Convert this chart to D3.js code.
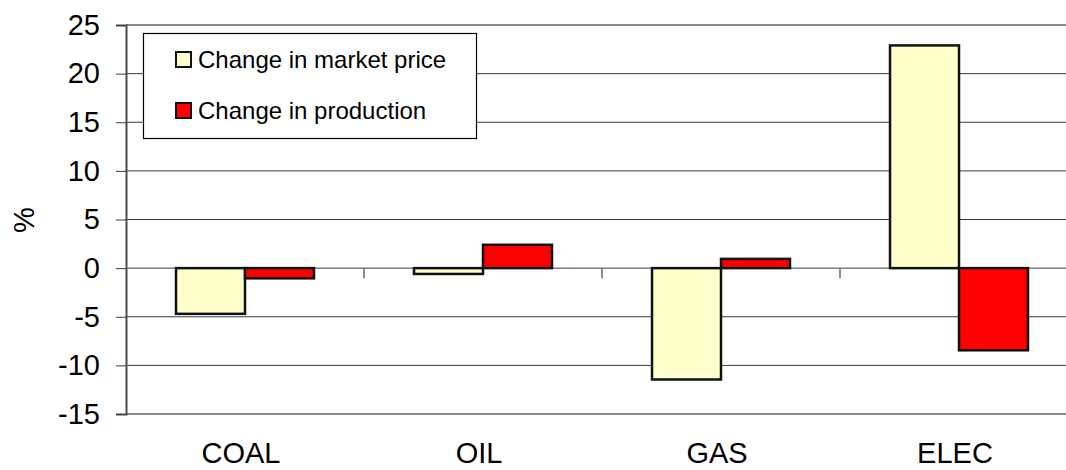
<!DOCTYPE html>
<meta charset="utf-8">
<style>
	body { margin: 0; background: #fff; }
	text { font-family: Arial, "Liberation Sans", sans-serif; fill: #000; }
</style>
<body>
<script src="https://d3js.org/d3.v7.min.js"></script>
<script>

	var categories = ["COAL", "OIL", "GAS", "ELEC"];
	var seriesNames = ["Change in market price", "Change in production"];
	var marketPrice = [-4.7, -0.6, -11.45, 22.9];
	var production = [-1.05, 2.4, 0.95, -8.45];
	var yTicks = [-15, -10, -5, 0, 5, 10, 15, 20, 25];
	var colors = ["#FFFFCC", "#FF0000"];

	var width = 1066, height = 470;
	var plotLeft = 126, plotRight = 1078, plotTop = 25, plotBottom = 414;

	var svg = d3.select("body").append("svg")
		.attr("width", width)
		.attr("height", height);

	var x = d3.scaleBand()
		.domain(categories)
		.range([plotLeft, plotRight]);

	var x1 = d3.scaleBand()
		.domain(seriesNames)
		.range([0, x.bandwidth()])
		.paddingOuter(0.725);

	var y = d3.scaleLinear()
		.domain([-15, 25])
		.range([plotBottom, plotTop]);

	// grid lines
	svg.append("g").selectAll("line")
		.data(yTicks.filter(function(d) { return d > -15 && d < 25; }))
		.enter().append("line")
		.attr("x1", plotLeft).attr("x2", plotRight)
		.attr("y1", function(d) { return y(d); })
		.attr("y2", function(d) { return y(d); })
		.attr("stroke", "#3a3a3a")
		.attr("stroke-width", 1);

	// plot border top / bottom
	[25, -15].forEach(function(v) {
		svg.append("line")
			.attr("x1", plotLeft).attr("x2", plotRight)
			.attr("y1", y(v)).attr("y2", y(v))
			.attr("stroke", "#8c8c8c")
			.attr("stroke-width", 2);
	});

	// y axis (plain hyphen for negatives, like the original)
	var yAxis = svg.append("g")
		.attr("transform", "translate(" + plotLeft + ",0)")
		.call(d3.axisLeft(y).tickValues(yTicks).tickSize(10).tickPadding(16)
			.tickFormat(function(d) { return String(d); }));
	yAxis.select(".domain").attr("stroke", "#4a4a4a").attr("stroke-width", 2);
	yAxis.selectAll(".tick line").attr("stroke", "#3a3a3a");
	yAxis.selectAll("text")
		.style("font-size", "29px")
		.style("font-family", "Arial, 'Liberation Sans', sans-serif")
		.attr("fill", "#000");

	// category separators on zero line
	var xAxis = svg.append("g")
		.attr("transform", "translate(0," + y(0) + ")");
	xAxis.selectAll(".sep")
		.data(categories.slice(1))
		.enter().append("line")
		.attr("class", "sep")
		.attr("x1", function(d) { return x(d); })
		.attr("x2", function(d) { return x(d); })
		.attr("y1", 0).attr("y2", 10)
		.attr("stroke", "#6a6a6a")
		.attr("stroke-width", 1.5);

	// category labels
	svg.append("g").selectAll("text")
		.data(categories)
		.enter().append("text")
		.attr("x", function(d) { return x(d) + x.bandwidth() / 2 - 4; })
		.attr("y", 463)
		.attr("text-anchor", "middle")
		.style("font-size", "29px")
		.text(function(d) { return d; });

	// bars
	var rows = categories.map(function(c, i) {
		return { cat: c, values: [marketPrice[i], production[i]] };
	});

	var groups = svg.append("g").selectAll("g")
		.data(rows)
		.enter().append("g")
		.attr("transform", function(d) { return "translate(" + x(d.cat) + ",0)"; });

	groups.selectAll("rect")
		.data(function(d) { return d.values.map(function(v, j) { return { s: seriesNames[j], v: v, j: j }; }); })
		.enter().append("rect")
		.attr("x", function(d) { return x1(d.s); })
		.attr("width", x1.bandwidth())
		.attr("y", function(d) { return y(Math.max(0, d.v)); })
		.attr("height", function(d) { return Math.abs(y(d.v) - y(0)); })
		.attr("fill", function(d) { return colors[d.j]; })
		.attr("stroke", "#111")
		.attr("stroke-width", 2.5);

	// y title
	svg.append("text")
		.attr("transform", "translate(34,220) rotate(-90)")
		.attr("text-anchor", "middle")
		.style("font-size", "29px")
		.text("%");

	// legend
	var legend = svg.append("g");
	legend.append("rect")
		.attr("x", 143.5).attr("y", 33.5)
		.attr("width", 333).attr("height", 105)
		.attr("fill", "#fff")
		.attr("stroke", "#000")
		.attr("stroke-width", 1.2);

	var items = legend.selectAll(".item")
		.data(seriesNames)
		.enter().append("g")
		.attr("class", "item")
		.attr("transform", function(d, i) { return "translate(176," + (52 + i * 51) + ")"; });
	items.append("rect")
		.attr("width", 15).attr("height", 15)
		.attr("fill", function(d, i) { return colors[i]; })
		.attr("stroke", "#111")
		.attr("stroke-width", 2);
	items.append("text")
		.attr("x", 22).attr("y", 16)
		.style("font-size", "24px")
		.text(function(d) { return d; });

</script>
</body>
